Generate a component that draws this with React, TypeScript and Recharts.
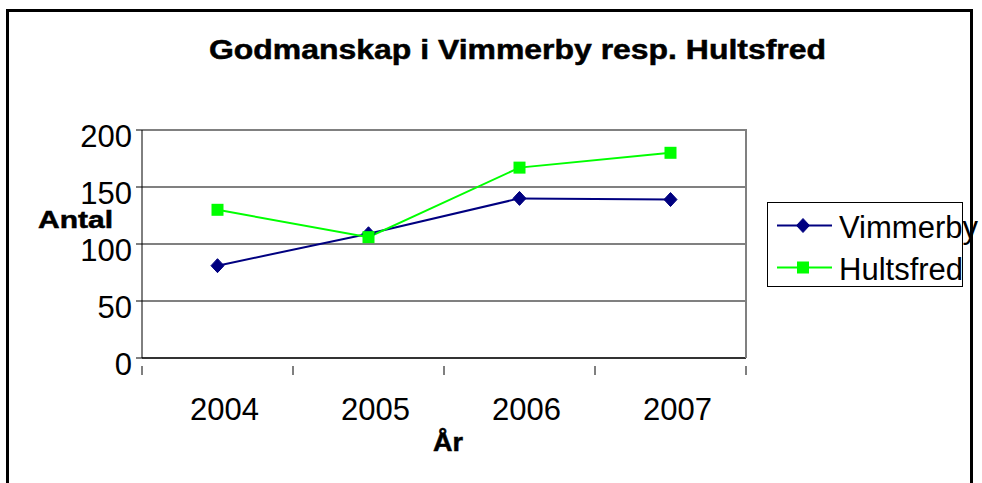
import React from 'react';
import { LineChart, Line, XAxis, YAxis, CartesianGrid, Legend } from 'recharts';

const years = ['2004', '2005', '2006', '2007'];
const vimmerby = [81, 109, 140, 139];
const hultsfred = [130, 106, 167, 180];
const yTicks = [0, 50, 100, 150, 200];

const data = years.map((y, i) => ({ year: y, Vimmerby: vimmerby[i], Hultsfred: hultsfred[i] }));

const FONT = '"Liberation Sans", Arial, sans-serif';
const NAVY = '#000080';
const GREEN = '#00FF00';

const Diamond = (props: any) => {
  const { cx, cy } = props;
  if (cx == null || cy == null) return null;
  return <polygon points={`${cx},${cy - 7} ${cx + 6.5},${cy} ${cx},${cy + 7} ${cx - 6.5},${cy}`} fill={NAVY} stroke={NAVY} />;
};
const Square = (props: any) => {
  const { cx, cy } = props;
  if (cx == null || cy == null) return null;
  return <rect x={cx - 6} y={cy - 6} width={12} height={12} fill={GREEN} />;
};

const XTick = (props: any) => {
  const { x, y, payload, index } = props;
  const half = 75.5;
  return (
    <g>
      <line x1={x - half} y1={y} x2={x - half} y2={y + 9} stroke="#000" strokeWidth={1} />
      {index === years.length - 1 && <line x1={x + half} y1={y} x2={x + half} y2={y + 9} stroke="#000" strokeWidth={1} />}
      <text x={x + 7} y={y + 54} textAnchor="middle" fontFamily={FONT} fontSize={31} fill="#000">{payload.value}</text>
    </g>
  );
};

const YTick = (props: any) => {
  const { x, y, payload } = props;
  return (
    <text x={x - 2} y={y + 16.5} textAnchor="end" fontFamily={FONT} fontSize={31} fill="#000">{payload.value}</text>
  );
};

const LegendContent = () => {
  const items = [
    { name: 'Vimmerby', color: NAVY, kind: 'd' },
    { name: 'Hultsfred', color: GREEN, kind: 's' },
  ];
  return (
    <svg width={220} height={86} style={{ overflow: 'visible', display: 'block' }}>
      <rect x={0.5} y={0.5} width={195} height={84} fill="#fff" stroke="#000" strokeWidth={1} />
      {items.map((it, i) => {
        const cy = 23.5 + i * 42;
        return (
          <g key={it.name}>
            <line x1={10} y1={cy} x2={65} y2={cy} stroke={it.color} strokeWidth={2} />
            {it.kind === 'd' ? <Diamond cx={36} cy={cy} /> : <Square cx={36} cy={cy} />}
            <text x={72} y={cy + 12.5} fontFamily={FONT} fontSize={31} fill="#000">{it.name}</text>
          </g>
        );
      })}
    </svg>
  );
};

export default function App() {
  return (
    <div style={{ position: 'absolute', left: 0, top: 0, width: 982, height: 483, overflow: 'hidden', background: '#fff' }}>
      <div style={{ position: 'absolute', left: 6, top: 9, width: 961, height: 500, border: '3px solid #000', boxSizing: 'content-box' }} />
      <div style={{ position: 'absolute', left: 0, top: 0 }}>
        <LineChart width={982} height={483} data={data} margin={{ top: 130, right: 236, left: 0, bottom: 0 }}>
          <CartesianGrid vertical={false} horizontal={true} stroke="#808080" strokeWidth={2} />
          <XAxis dataKey="year" scale="band" height={125} tick={<XTick />} tickLine={false} axisLine={{ stroke: '#333', strokeWidth: 2 }} interval={0}
            label={{ value: 'År', content: () => (
              <text x={433} y={451} textLength={30} lengthAdjust="spacingAndGlyphs" fontFamily={FONT} fontWeight="bold" fontSize={25} fill="#000" stroke="#000" strokeWidth={0.5}>År</text>
            ) }} />
          <YAxis width={142} domain={[0, 200]} ticks={yTicks} tick={<YTick />} tickSize={6} tickLine={{ stroke: '#000' }} axisLine={{ stroke: '#000', strokeWidth: 1 }}
            label={{ value: 'Antal', content: () => (
              <text x={38} y={228} textLength={75} lengthAdjust="spacingAndGlyphs" fontFamily={FONT} fontWeight="bold" fontSize={24} fill="#000" stroke="#000" strokeWidth={0.5}>Antal</text>
            ) }} />
          <Legend layout="vertical" align="center" verticalAlign="middle" wrapperStyle={{ left: 767, top: 202, width: 220 }} content={<LegendContent />} />
          <Line dataKey="Vimmerby" stroke={NAVY} strokeWidth={2} dot={<Diamond />} activeDot={false} isAnimationActive={false} />
          <Line dataKey="Hultsfred" stroke={GREEN} strokeWidth={2} dot={<Square />} activeDot={false} isAnimationActive={false} />
          <text x={209} y={59} textLength={617} lengthAdjust="spacingAndGlyphs" fontFamily={FONT} fontWeight="bold" fontSize={27} fill="#000" stroke="#000" strokeWidth={0.5}>Godmanskap i Vimmerby resp. Hultsfred</text>
        </LineChart>
      </div>
      <svg width={982} height={483} style={{ position: 'absolute', left: 0, top: 0, pointerEvents: 'none' }}>
        <line x1={746} y1={129} x2={746} y2={358} stroke="#808080" strokeWidth={2} />
      </svg>
    </div>
  );
}
